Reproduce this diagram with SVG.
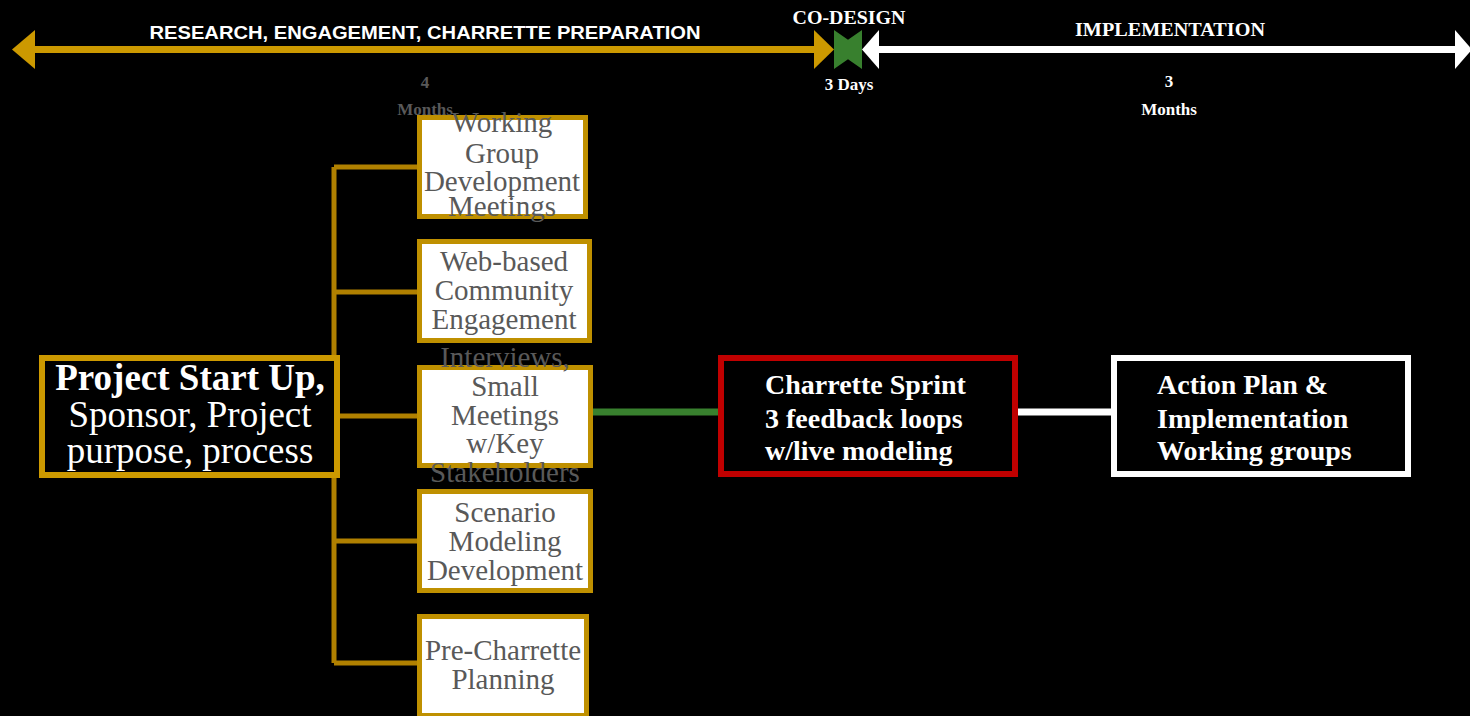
<svg xmlns="http://www.w3.org/2000/svg" width="1470" height="716" viewBox="0 0 1470 716">
<style>
.serif{font-family:"Liberation Serif","Times New Roman",serif}
.sans{font-family:"Liberation Sans",Arial,sans-serif}
.gbox{fill:#ffffff;stroke:#bf9000;stroke-width:5}
.gtxt{font-family:"Liberation Serif","Times New Roman",serif;font-size:29px;fill:#595959;text-anchor:middle}
.wb{font-family:"Liberation Serif","Times New Roman",serif;font-weight:bold;fill:#ffffff}
.branch{stroke:#b08000;stroke-width:5;fill:none}
</style>
<rect x="0" y="0" width="1470" height="716" fill="#000000"/>

<g id="timeline">
  <rect x="30" y="46" width="786" height="7" fill="#cc9900"/>
  <polygon points="12,49.5 35,30 35,69" fill="#cc9900"/>
  <polygon points="814,30 834,49.5 814,69" fill="#cc9900"/>
  <polygon points="834,30 848,39.75 862,30 862,69 848,59.25 834,69" fill="#38802e"/>
  <rect x="876" y="46" width="581" height="7" fill="#ffffff"/>
  <polygon points="862,49.5 879,30 879,69" fill="#ffffff"/>
  <polygon points="1455,30 1472,49.5 1455,69" fill="#ffffff"/>
  <text class="sans" x="425" y="39" font-size="19" font-weight="bold" fill="#ffffff" text-anchor="middle" textLength="551" lengthAdjust="spacingAndGlyphs">RESEARCH, ENGAGEMENT, CHARRETTE PREPARATION</text>
  <text class="wb" x="849" y="24" font-size="18" text-anchor="middle" textLength="113" lengthAdjust="spacingAndGlyphs">CO-DESIGN</text>
  <text class="wb" x="1170" y="36" font-size="19" text-anchor="middle" textLength="190" lengthAdjust="spacingAndGlyphs">IMPLEMENTATION</text>
  <text class="serif" x="425" y="88" font-size="17" font-weight="bold" fill="#595959" text-anchor="middle">4</text>
  <text class="serif" x="425" y="115" font-size="17" font-weight="bold" fill="#595959" text-anchor="middle">Months</text>
  <text class="wb" x="849" y="90" font-size="17" text-anchor="middle">3 Days</text>
  <text class="wb" x="1169" y="87" font-size="17" text-anchor="middle">3</text>
  <text class="wb" x="1169" y="115" font-size="17" text-anchor="middle">Months</text>
</g>

<g id="connectors">
  <path class="branch" d="M334,167 V663 M334,167 H418 M334,292 H418 M338,416 H418 M334,541 H418 M334,663 H418"/>
  <line x1="592" y1="412" x2="722" y2="412" stroke="#38802e" stroke-width="7"/>
  <line x1="1016" y1="412" x2="1113" y2="412" stroke="#ffffff" stroke-width="7"/>
</g>

<g id="node-start">
  <rect x="42" y="358" width="295" height="117" fill="#000000" stroke="#cc9900" stroke-width="6"/>
  <text class="serif" x="190" y="390" font-size="37" font-weight="bold" fill="#ffffff" text-anchor="middle">Project Start Up,</text>
  <text class="serif" x="190" y="427" font-size="37" fill="#ffffff" text-anchor="middle">Sponsor, Project</text>
  <text class="serif" x="190" y="463" font-size="37" fill="#ffffff" text-anchor="middle">purpose, process</text>
</g>

<g id="node-working-group">
  <rect class="gbox" x="419.5" y="117.5" width="166" height="99"/>
  <text class="gtxt" x="502" y="132">Working</text>
  <text class="gtxt" x="502" y="163">Group</text>
  <text class="gtxt" x="502" y="191">Development</text>
  <text class="gtxt" x="502" y="216">Meetings</text>
</g>

<g id="node-web">
  <rect class="gbox" x="419.5" y="241.5" width="170" height="99"/>
  <text class="gtxt" x="504" y="271">Web-based</text>
  <text class="gtxt" x="504" y="300">Community</text>
  <text class="gtxt" x="504" y="329">Engagement</text>
</g>

<g id="node-interviews">
  <rect class="gbox" x="419.5" y="367.5" width="171" height="98"/>
  <text class="gtxt" x="505" y="367">Interviews,</text>
  <text class="gtxt" x="505" y="396">Small</text>
  <text class="gtxt" x="505" y="425">Meetings</text>
  <text class="gtxt" x="505" y="453">w/Key</text>
  <text class="gtxt" x="505" y="482">Stakeholders</text>
</g>

<g id="node-scenario">
  <rect class="gbox" x="419.5" y="491.5" width="171" height="99"/>
  <text class="gtxt" x="505" y="522">Scenario</text>
  <text class="gtxt" x="505" y="551">Modeling</text>
  <text class="gtxt" x="505" y="580">Development</text>
</g>

<g id="node-precharrette">
  <rect class="gbox" x="419.5" y="616.5" width="167" height="99"/>
  <text class="gtxt" x="503" y="660">Pre-Charrette</text>
  <text class="gtxt" x="503" y="689">Planning</text>
</g>

<g id="node-charrette">
  <rect x="721" y="358" width="294" height="116" fill="#000000" stroke="#c00000" stroke-width="6"/>
  <text class="wb" x="765" y="394" font-size="28">Charrette Sprint</text>
  <text class="wb" x="765" y="428" font-size="28">3 feedback loops</text>
  <text class="wb" x="765" y="460" font-size="28">w/live modeling</text>
</g>

<g id="node-action">
  <rect x="1114" y="358" width="294" height="116" fill="#000000" stroke="#ffffff" stroke-width="6"/>
  <text class="wb" x="1157" y="394" font-size="28">Action Plan &amp;</text>
  <text class="wb" x="1157" y="428" font-size="28">Implementation</text>
  <text class="wb" x="1157" y="460" font-size="28">Working groups</text>
</g>
</svg>
